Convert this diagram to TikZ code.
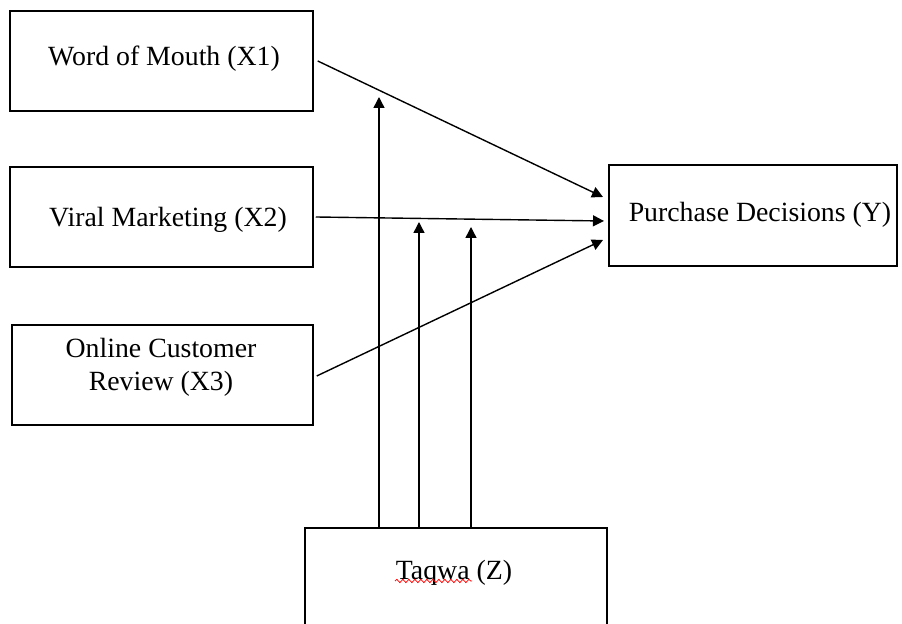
\documentclass[tikz,border=0pt]{standalone}
\usepackage{fontspec}
\setmainfont{Liberation Serif}
\usetikzlibrary{arrows.meta,decorations.pathmorphing}
\tikzset{
  var/.style={draw,line width=0.75pt,rectangle,inner sep=0pt,
    minimum width=151.5pt,minimum height=50pt},
  varlabel/.style={align=center,inner sep=0pt,font=\fontsize{13.9}{16.5}\selectfont},
  link/.style={-{Triangle[length=5.5pt,width=5.5pt]},line width=0.7pt}
}
\begin{document}
\begin{tikzpicture}[x=0.5pt,y=-0.5pt]
            \useasboundingbox (0,0) rectangle (902,624);
            \node[var] (wom) at (161.5,61) {};
            \node[var] (viral) at (161.5,217) {};
            \node[var,minimum width=150.5pt] (review) at (162.5,375) {};
            \node[var,minimum width=144pt,minimum height=50.5pt] (decision) at (753,215.5) {};
            \node[var,minimum width=151pt] (taqwa) at (456,578) {};
            \node[varlabel] (womtext) at (164,59) {Word of Mouth (X1)};
            \node[varlabel] (viraltext) at (168,220) {Viral Marketing (X2)};
            \node[varlabel] (reviewtext) at (161,367) {Online Customer\\Review (X3)};
            \node[varlabel] (dtext) at (760,215) {Purchase Decisions (Y)};
            \node[varlabel] (ztext) at (454,573) {Taqwa (Z)};
            \draw[red,line width=0.4pt,decorate,decoration={snake,amplitude=0.8pt,segment length=3pt}] (395,581) -- (472,581);
            % arrows to Y
            \coordinate (y1) at (603,197);
            \coordinate (y2) at (604,221);
            \coordinate (y3) at (603,240);
            \draw[link] ([xshift=2pt]wom.east) -- (y1);
            \draw[link] ([xshift=1pt]viral.east) -- (y2);
            \draw[link] ([xshift=1.5pt,yshift=-0.5pt]review.east) -- (y3);
            % moderator arrows from Z
            \coordinate (m1) at (379,97);
            \coordinate (m2) at (419,222);
            \coordinate (m3) at (471,227);
            \draw[link] (taqwa.north -| m1) -- (m1);
            \draw[link] (taqwa.north -| m2) -- (m2);
            \draw[link] (taqwa.north -| m3) -- (m3);
\end{tikzpicture}
\end{document}
